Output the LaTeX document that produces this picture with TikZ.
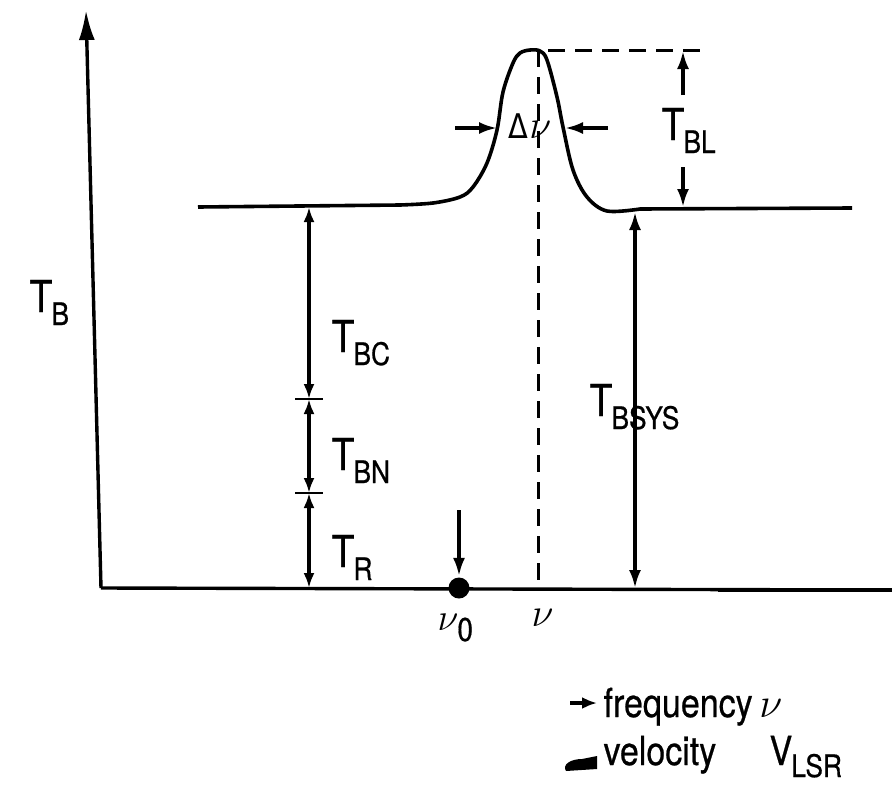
\RequirePackage{fix-cm}
\documentclass[tikz,border=0pt]{standalone}
\usepackage{fontspec}
\setmainfont{TeX Gyre Heros}[FakeStretch=0.85,FakeBold=0.6]
\newfontfamily\dvfont{DejaVu Sans}[FakeStretch=0.85]
\usetikzlibrary{arrows.meta}
\newcommand\Tsub[1]{T\kern-1pt\raisebox{-13pt}{\fontsize{31}{31}\selectfont #1}}
\tikzset{
  lbl/.style={font=\fontsize{44}{48}\selectfont, inner sep=0pt, anchor=base west},
  leg/.style={font=\fontsize{40}{44}\selectfont, inner sep=0pt, anchor=base west},
  dashln/.style={line width=3pt, dash pattern=on 17pt off 10pt},
  ax/.style={line width=3.4pt},
}
\begin{document}
\begin{tikzpicture}[x=1pt,y=-1pt, line width=3.2pt, line cap=butt,
  >={Latex[length=18pt,width=12pt]}]
\useasboundingbox (0,0) rectangle (892,785);
% axes
\coordinate (o) at (101,588);
\coordinate (ytop) at (86,10);
\coordinate (xend) at (892,590);
\draw[ax,-{Latex[length=30pt,width=16pt]}] (o) -- (ytop);
\draw[ax] (o) -- (xend);
\draw[line width=4.4pt] (718,590) -- (xend);
% spectrum
\coordinate (bl) at (198,207);
\coordinate (br) at (852,208);
\draw[line width=3.6pt, line join=round] (bl) -- (400,205)
  plot[smooth, tension=0.55] coordinates {(400,205) (433,203) (460,197) (473,187) (487,163) (497,130) (503,92) (513,63) (520,53) (530,50) (540,51) (547,60) (557,97) (563,127) (573,170) (587,197) (607,211) (640,209)}
  -- (br);
% dashed guides
\coordinate (pk) at (538,50);
\coordinate (pkb) at (538,590);
\coordinate (pkr) at (702,50);
\draw[dashln] (pk) -- (pkb);
\draw[dashln] (548,50) -- (pkr);
% T_BL arrow
\coordinate (blt) at (683,51);
\coordinate (blb) at (683,207);
\draw[->] (683,95) -- (blt);
\draw[->] (683,167) -- (blb);
\node[lbl] (tbl) at (660,140) {\Tsub{BL}};
% delta nu
\coordinate (dl) at (497,128);
\coordinate (dr) at (565,128);
\draw[->] (455,128) -- (dl);
\draw[->] (608,128) -- (dr);
\node[inner sep=0pt] (dnu) at (530,126) {{\dvfont\fontsize{34}{34}\selectfont Δ}\kern1pt{\fontsize{40}{40}\selectfont$\nu$}};
% left stack
\coordinate (s0) at (309,207);
\coordinate (s1) at (309,399);
\coordinate (s2) at (309,493);
\coordinate (s3) at (309,588);
\draw[<->, >={Latex[length=15pt,width=11pt]}] (s0) -- (s1);
\draw[<->, >={Latex[length=15pt,width=11pt]}] (s1) -- (s2);
\draw[<->, >={Latex[length=15pt,width=11pt]}] (s2) -- (s3);
\draw[line width=2.6pt] ([xshift=-14pt]s1) -- ([xshift=14pt]s1);
\draw[line width=2.6pt] ([xshift=-14pt]s2) -- ([xshift=14pt]s2);
\node[lbl] (tbc) at (330,352) {\Tsub{BC}};
\node[lbl] (tbn) at (330,470) {\Tsub{BN}};
\node[lbl] (tr) at (330,567) {\Tsub{R}};
% T_BSYS
\coordinate (sy0) at (635,212);
\coordinate (sy1) at (635,588);
\draw[<->] (sy0) -- (sy1);
\node[lbl] (tbsys) at (588,416) {\Tsub{BSYS}};
% T_B
\node[lbl] (tb) at (28,312) {\Tsub{B}};
% nu0
\node[circle, fill=black, inner sep=0pt, minimum size=21pt] (dot) at (459,588) {};
\coordinate (nua) at (459,510);
\draw[->] (nua) -- (dot.north);
\node[inner sep=0pt, anchor=base west] (nu0) at (436,630) {{\fontsize{38}{38}\selectfont$\nu$}\kern-1pt\raisebox{-11pt}{\fontsize{33}{33}\selectfont 0}};
\node[inner sep=0pt, anchor=base west] (nu) at (530,626) {\fontsize{40}{40}\selectfont$\nu$};
% legend
\coordinate (la0) at (570,703);
\coordinate (la1) at (597,703);
\draw[line width=3.4pt, -{Latex[length=15pt,width=12pt]}] (la0) -- (la1);
\node[leg] (freq) at (602,717) {frequency\,{\fontsize{42}{42}\selectfont$\nu$}};
\fill (566,771) .. controls (562,765) and (570,759) .. (582,759) -- (597,756) -- (597,769) -- cycle;
\node[leg] (vel) at (602,765) {velocity};
\node[leg] (vlsr) at (768,765) {V\kern-1pt\raisebox{-12pt}{\fontsize{31}{31}\selectfont LSR}};
\end{tikzpicture}
\end{document}
